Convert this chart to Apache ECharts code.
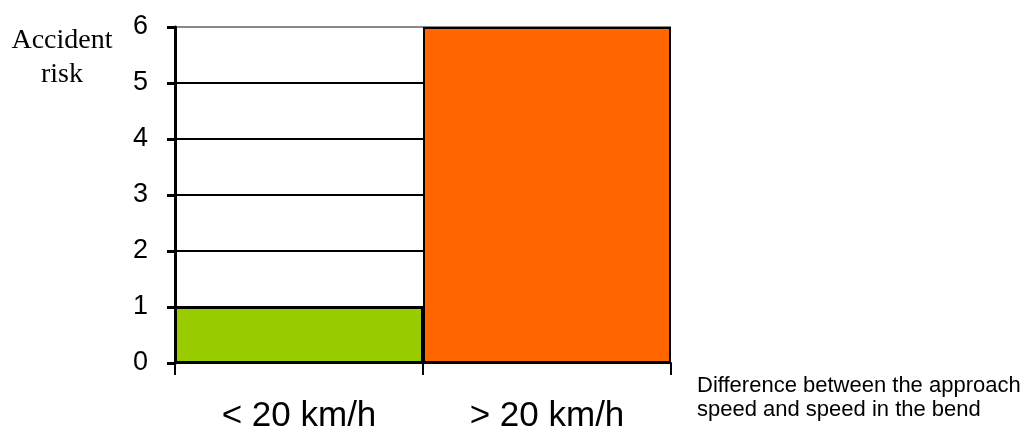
<!DOCTYPE html>
<html><head><meta charset="utf-8">
<script src="https://cdn.jsdelivr.net/npm/echarts@6/dist/echarts.min.js"></script>
<style>html,body{margin:0;padding:0;background:#fff}#c{width:1023px;height:429px}</style>
</head><body><div id="c"></div>
<script>
const categories = ['< 20 km/h', '> 20 km/h'];
const values = [1, 6];
const barColors = ['#99CC00', '#FF6600'];
const yTicks = [0, 1, 2, 3, 4, 5, 6];

const chart = echarts.init(document.getElementById('c'));
chart.setOption({
  animation: false,
  grid: { left: 175, right: 352, top: 27, bottom: 66, containLabel: false, outerBoundsMode: 'none' },
  xAxis: {
    type: 'category', data: categories,
    axisLine: { lineStyle: { color: '#000', width: 2 } },
    axisTick: { show: true, length: 12, lineStyle: { color: '#000', width: 2 } },
    axisLabel: { color: '#000', fontFamily: 'Liberation Sans', fontSize: 35, margin: 36 }
  },
  yAxis: {
    type: 'value', min: yTicks[0], max: yTicks[yTicks.length - 1], interval: 1,
    axisLine: { show: true, lineStyle: { color: '#000', width: 3 } },
    axisTick: { show: true, length: 8, lineStyle: { color: '#000', width: 3 } },
    axisLabel: { color: '#000', fontFamily: 'Liberation Sans', fontSize: 27, margin: 27 },
    splitLine: { show: true, lineStyle: { color: ['#000','#000','#000','#000','#000','#000','#888'], width: 2 } }
  },
  series: [{
    type: 'bar', barCategoryGap: 0,
    data: values.map((v, i) => ({ value: v, itemStyle: { color: barColors[i] } })),
    itemStyle: { borderColor: '#000', borderWidth: 2 }
  }],
  graphic: [
    { type: 'text', x: 62, y: 24, style: { text: 'Accident\nrisk', align: 'center', verticalAlign: 'top', fill: '#000', font: '28px "Liberation Serif"', lineHeight: 34 } },
    { type: 'text', x: 697, y: 374, style: { text: 'Difference between the approach\nspeed and speed in the bend', align: 'left', verticalAlign: 'top', fill: '#000', font: '22px "Liberation Sans"', lineHeight: 24 } }
  ]
});
</script></body></html>
